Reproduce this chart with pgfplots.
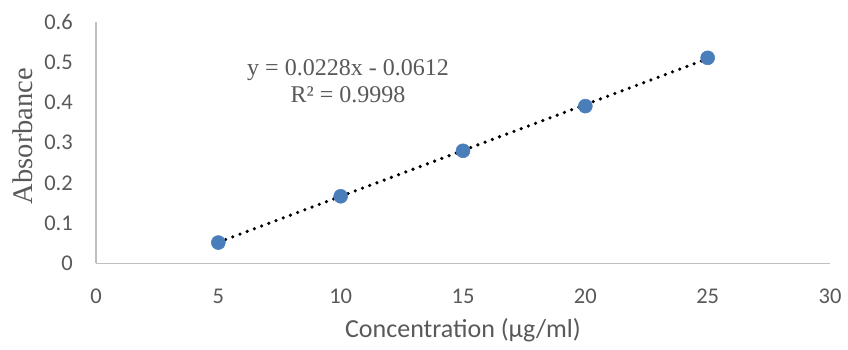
\documentclass[border=0pt]{standalone}
\usepackage{fontspec}
\setmainfont{Liberation Serif}
\newfontfamily\carlito{Carlito}
\usepackage{pgfplots}
\pgfplotsset{compat=1.18}
\definecolor{ptblue}{RGB}{74,126,187}
\definecolor{txtgray}{RGB}{89,89,89}
\definecolor{axgray}{RGB}{191,191,191}
\begin{document}
\begin{tikzpicture}[x=1pt,y=1pt]
\useasboundingbox (-96,-86.5) rectangle (752,263.5);
\begin{axis}[
  at={(0,0)}, anchor=south west,
  scale only axis, width=734pt, height=241.5pt,
  xmin=0,xmax=30,ymin=0,ymax=0.6,
  xtick={0,5,10,15,20,25,30}, ytick={0,0.1,0.2,0.3,0.4,0.5,0.6},
  axis x line*=bottom, axis y line*=left,
  axis line style={-, draw=axgray, line width=1.3pt},
  major tick length=0pt,
  tick style={draw=none},
  /pgf/number format/assume math mode=true,
  tick label style={font=\carlito\fontsize{22.5}{27}\selectfont, text=txtgray, inner sep=0pt},
  xticklabel style={anchor=center, yshift=-33pt},
  yticklabel style={anchor=east, xshift=-23pt, /pgf/number format/fixed, /pgf/number format/precision=1},
  xlabel={Concentration (μg/ml)},
  ylabel={Absorbance},
  xlabel style={font=\carlito\fontsize{26}{30}\selectfont, text=txtgray, at={(axis description cs:0.5,0)}, anchor=center, yshift=-66.5pt},
  ylabel style={font=\fontsize{28.5}{32}\selectfont, text=txtgray, at={(axis description cs:-0.0995,0.528)}, anchor=center, inner sep=0pt},
  clip=false,
]
\addplot[only marks, mark=*, mark size=7pt, color=ptblue, mark options={draw=ptblue, fill=ptblue, line width=0.5pt}] coordinates {
  (5,0.052) (10,0.167) (15,0.280) (20,0.391) (25,0.511)
};
\addplot[black, line width=3.6pt, line cap=round, dash pattern=on 0pt off 7.7pt] coordinates {
  (5,0.0528) (25,0.5088)
};
\node[anchor=base, text=txtgray, font=\fontsize{24}{28}\selectfont, inner sep=0pt] at (axis cs:10.30,0.4683) {y = 0.0228x - 0.0612};
\node[anchor=base, text=txtgray, font=\fontsize{24}{28}\selectfont, inner sep=0pt] at (axis cs:10.30,0.3988) {R² = 0.9998};
\end{axis}
\end{tikzpicture}
\end{document}
